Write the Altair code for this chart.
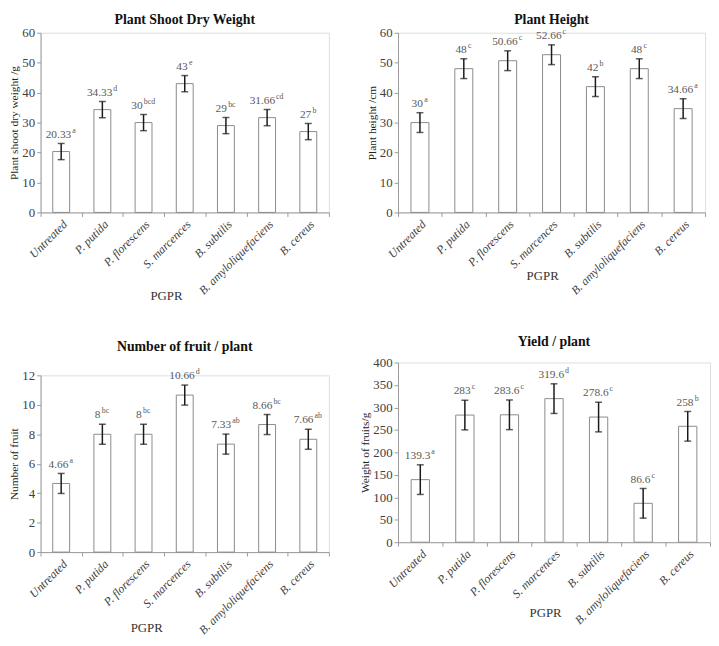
import altair as alt
import pandas as pd

categories = ["Untreated", "P. putida", "P. florescens", "S. marcences",
              "B. subtilis", "B. amyloliquefaciens", "B. cereus"]

shoot_values = [20.33, 34.33, 30, 43, 29, 31.66, 27]
shoot_letters = ["a", "d", "bcd", "e", "bc", "cd", "b"]
shoot_err = [2.7, 2.7, 2.7, 2.7, 2.7, 2.7, 2.7]
shoot_ticks = [0, 10, 20, 30, 40, 50, 60]

height_values = [30, 48, 50.66, 52.66, 42, 48, 34.66]
height_letters = ["a", "c", "c", "c", "b", "c", "a"]
height_err = [3.3, 3.3, 3.3, 3.3, 3.3, 3.3, 3.3]
height_ticks = [0, 10, 20, 30, 40, 50, 60]

fruit_values = [4.66, 8, 8, 10.66, 7.33, 8.66, 7.66]
fruit_letters = ["a", "bc", "bc", "d", "ab", "bc", "ab"]
fruit_err = [0.68, 0.68, 0.68, 0.68, 0.68, 0.68, 0.68]
fruit_ticks = [0, 2, 4, 6, 8, 10, 12]

yield_values = [139.3, 283, 283.6, 319.6, 278.6, 86.6, 258]
yield_letters = ["a", "c", "c", "d", "c", "c", "b"]
yield_err = [33, 33, 33, 33, 33, 33, 33]
yield_ticks = [0, 50, 100, 150, 200, 250, 300, 350, 400]

FONT = "'Liberation Serif', 'Times New Roman', Times, serif"


def panel(title, ytitle, values, letters, errs, yticks, w, h, toff, xtx, xty):
    df = pd.DataFrame({"cat": categories, "val": values, "let": letters, "err": errs})
    half = w / len(categories) / 2
    base = alt.Chart(df).transform_calculate(
        lo="datum.val - datum.err",
        hi="datum.val + datum.err",
        num="'' + datum.val",
    ).transform_calculate(
        wn="length(datum.num) * 5.5 - (indexof(datum.num, '.') >= 0 ? 2.75 : 0)",
        wl="length(datum.let) * 4",
    ).transform_calculate(
        nx=f"{half} - (datum.wn + 1.5 + datum.wl) / 2 + datum.wn / 2",
        lx=f"{half} - (datum.wn + 1.5 + datum.wl) / 2 + datum.wn + 1.5",
    )
    xs = alt.Scale(paddingInner=0, paddingOuter=0)
    x_axis = alt.Axis(title="PGPR", labelAngle=-45, labelFontStyle="italic",
                      tickBand="extent", labelFont=FONT, labelFontSize=12,
                      labelColor="#404040", titleFont=FONT, titleFontSize=13,
                      titleFontWeight="normal", titleColor="#333333",
                      titleX=xtx, titleY=xty, domainColor="#9a9a9a",
                      tickColor="#9a9a9a", tickSize=4, labelPadding=2)
    x = alt.X("cat:N", sort=categories, scale=xs, axis=x_axis)
    ys = alt.Scale(domain=[yticks[0], yticks[-1]], nice=False)
    y_axis = alt.Axis(title=ytitle, values=yticks, grid=False, labelFont=FONT,
                      labelFontSize=13, labelColor="#404040", titleFont=FONT,
                      titleFontSize=11.5, titleFontWeight="normal",
                      titleColor="#222222", domainColor="#9a9a9a",
                      tickColor="#9a9a9a", tickSize=4, labelPadding=2,
                      titlePadding=2, labelOverlap=False)
    bars = base.mark_bar(fill="white", stroke="#8a8a8a", strokeWidth=1,
                         width=alt.RelativeBandSize(0.41)).encode(
        x=x, y=alt.Y("val:Q", scale=ys, axis=y_axis))
    rule = base.mark_rule(color="#1a1a1a", strokeWidth=1.5).encode(
        x=x, y=alt.Y("lo:Q", scale=ys, axis=y_axis), y2="hi:Q")
    cap_lo = base.mark_tick(color="#1a1a1a", thickness=1.5, size=7).encode(
        x=x, y=alt.Y("lo:Q", scale=ys, axis=y_axis))
    cap_hi = base.mark_tick(color="#1a1a1a", thickness=1.5, size=7).encode(
        x=x, y=alt.Y("hi:Q", scale=ys, axis=y_axis))
    num = base.mark_text(font=FONT, fontSize=11.5, color="#595959",
                         baseline="bottom", dy=-4).encode(
        x=x, y=alt.Y("hi:Q", scale=ys, axis=y_axis), text="num:N",
        xOffset=alt.XOffset("nx:Q", scale=None))
    let = base.mark_text(font=FONT, fontSize=8, color="#595959", align="left",
                         baseline="bottom", dy=-9).encode(
        x=x, y=alt.Y("hi:Q", scale=ys, axis=y_axis), text="let:N",
        xOffset=alt.XOffset("lx:Q", scale=None))
    return alt.layer(bars, rule, cap_lo, cap_hi, num, let).properties(
        width=w, height=h,
        title=alt.TitleParams(title, font=FONT, fontSize=14, fontWeight="bold",
                              color="#111111", offset=toff))


p1 = panel("Plant Shoot Dry Weight", "Plant shoot dry weight /g", shoot_values,
           shoot_letters, shoot_err, shoot_ticks, 292, 182, 0, 127, 78)
p3 = panel("Number of fruit / plant", "Number of fruit", fruit_values,
           fruit_letters, fruit_err, fruit_ticks, 292, 179, 15, 107, 70)
p2 = panel("Plant Height", "Plant height /cm", height_values, height_letters,
           height_err, height_ticks, 311, 182, 0, 146, 58)
p4 = panel("Yield / plant", "Weight of fruits/g", yield_values, yield_letters,
           yield_err, yield_ticks, 316, 182, 8, 149, 65)

chart = alt.hconcat(
    alt.vconcat(p1, p3, spacing=36),
    alt.vconcat(p2, p4, spacing=37),
    spacing=30,
).properties(padding=0).configure_view(stroke=None).configure(
    background="white"
).configure_axis(labelFont=FONT, titleFont=FONT).configure_text(font=FONT)

chart.save("out.html", embed_options={"renderer": "svg", "actions": False})
